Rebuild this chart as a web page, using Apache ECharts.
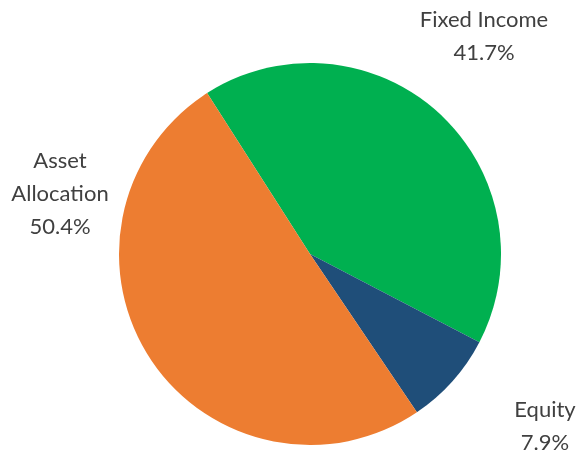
<!DOCTYPE html>
<html><head><meta charset="utf-8">
<script src="https://cdn.jsdelivr.net/npm/echarts@6/dist/echarts.min.js"></script>
<style>html,body{margin:0;padding:0;background:#fff}#c{width:578px;height:453px}</style>
</head><body><div id="c"></div>
<script>
const categories = ["Fixed Income", "Equity", "Asset Allocation"];
const values = [41.7, 7.9, 50.4];
const labelNames = ["Fixed Income", "Equity", "Asset\nAllocation"];
const colors = ["#00B050", "#1F4E79", "#ED7D31"];
const labelAnchors = [[484, 36], [545, 426], [60, 194]];

const chart = echarts.init(document.getElementById('c'), null, {renderer: 'canvas'});
chart.setOption({
  animation: false,
  series: [{
    type: 'pie',
    center: [310, 254],
    radius: 191,
    startAngle: 122.6,
    clockwise: true,
    avoidLabelOverlap: false,
    data: categories.map((c, i) => ({name: c, value: values[i], itemStyle: {color: colors[i]}})),
    label: {
      show: true,
      position: 'outside',
      overflow: 'none',
      formatter: p => labelNames[p.dataIndex] + '\n' + values[p.dataIndex].toFixed(1) + '%',
      fontFamily: 'Lato',
      fontSize: 22,
      lineHeight: 33,
      color: '#404040',
      align: 'center'
    },
    labelLine: {show: false},
    labelLayout: function (p) {
      const a = labelAnchors[p.dataIndex];
      return {x: a[0], y: a[1], align: 'center', verticalAlign: 'middle'};
    },
    itemStyle: {borderWidth: 0}
  }]
});
</script></body></html>
